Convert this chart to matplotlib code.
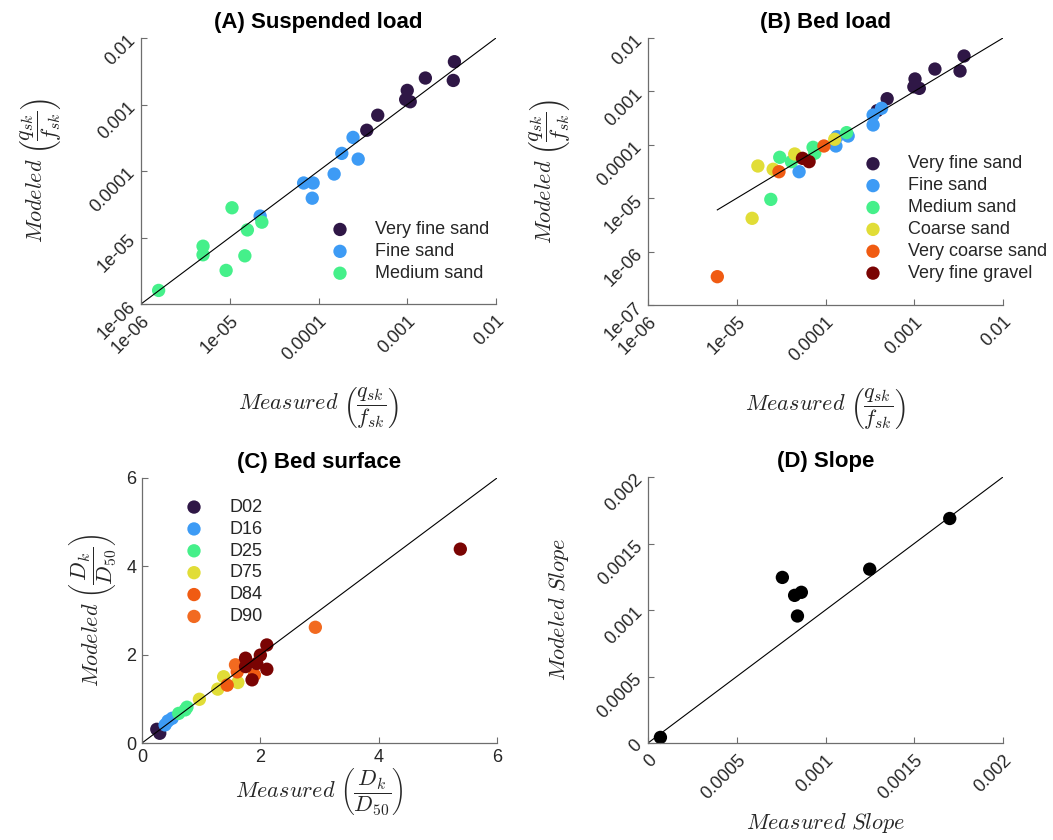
import matplotlib
matplotlib.use("Agg")
import matplotlib.pyplot as plt
from matplotlib.ticker import FuncFormatter, NullLocator

plt.rcParams["font.family"] = ["Liberation Sans", "DejaVu Sans"]
plt.rcParams["mathtext.fontset"] = "cm"

# colours of the grain classes
C_VFS = "#2f1746"
C_FS = "#3d9bf5"
C_MS = "#45f08a"
C_CS = "#e1dd37"
C_VCS = "#f05b12"
C_D90 = "#f26a20"
C_VFG = "#7a0403"

# (A) suspended load, measured / modeled q_sk/f_sk
a_vfs_x = [3.4e-3, 3.3e-3, 1.6e-3, 1.0e-3, 9.6e-4, 1.08e-3, 4.65e-4, 3.5e-4]
a_vfs_y = [4.4e-3, 2.3e-3, 2.5e-3, 1.63e-3, 1.19e-3, 1.1e-3, 6.9e-4, 4.1e-4]
a_fs_x = [2.45e-4, 1.83e-4, 2.8e-4, 1.5e-4, 6.8e-5, 8.7e-5, 8.5e-5, 2.2e-5]
a_fs_y = [3.2e-4, 1.84e-4, 1.51e-4, 9.0e-5, 6.6e-5, 6.6e-5, 3.9e-5, 2.1e-5]
a_ms_x = [1.06e-5, 2.3e-5, 1.58e-5, 5.0e-6, 5.0e-6, 1.48e-5, 9.1e-6, 1.58e-6]
a_ms_y = [2.8e-5, 1.7e-5, 1.3e-5, 7.4e-6, 5.5e-6, 5.3e-6, 3.2e-6, 1.6e-6]

# (B) bed load
b_vfs_x = [3.64e-3, 3.28e-3, 1.71e-3, 1.02e-3, 9.9e-4, 1.14e-3, 4.95e-4, 3.82e-4]
b_vfs_y = [4.6e-3, 2.41e-3, 2.62e-3, 1.71e-3, 1.22e-3, 1.14e-3, 7.3e-4, 4.35e-4]
b_fs_x = [4.28e-4, 3.44e-4, 3.44e-4, 1.80e-4, 1.35e-4, 1.31e-4, 5.04e-5]
b_fs_y = [4.83e-4, 3.61e-4, 2.35e-4, 1.46e-4, 1.42e-4, 9.5e-5, 3.13e-5]
b_ms_x = [1.73e-4, 7.24e-5, 7.57e-5, 3.05e-5, 4.13e-5, 2.42e-5]
b_ms_y = [1.69e-4, 8.97e-5, 6.93e-5, 5.83e-5, 4.83e-5, 9.5e-6]
b_cs_x = [1.27e-4, 4.5e-5, 1.73e-5, 2.57e-5, 1.49e-5]
b_cs_y = [1.27e-4, 6.73e-5, 4.01e-5, 3.48e-5, 4.2e-6]
b_vcs_x = [9.6e-5, 2.99e-5, 6.04e-6]
b_vcs_y = [9.5e-5, 3.13e-5, 3.39e-7]
b_vfg_x = [5.5e-5, 6.53e-5]
b_vfg_y = [5.58e-5, 4.83e-5]

# (C) bed surface, D_k / D_50
c_d02_x = [0.25, 0.30]
c_d02_y = [0.31, 0.22]
c_d16_x = [0.39, 0.44, 0.51]
c_d16_y = [0.41, 0.50, 0.56]
c_d25_x = [0.62, 0.73, 0.76]
c_d25_y = [0.67, 0.75, 0.81]
c_d75_x = [0.97, 1.28, 1.38, 1.62]
c_d75_y = [0.99, 1.22, 1.50, 1.37]
c_d84_x = [1.44, 1.61, 1.90]
c_d84_y = [1.31, 1.61, 1.54]
c_d90_x = [1.58, 2.93]
c_d90_y = [1.77, 2.62]
c_rest_x = [1.75, 1.75, 1.94, 2.00, 2.11, 2.11, 1.86, 5.38]
c_rest_y = [1.92, 1.73, 1.80, 1.99, 2.22, 1.67, 1.43, 4.39]

# (D) slope
d_x = [7.0e-5, 7.57e-4, 8.26e-4, 8.64e-4, 8.42e-4, 1.249e-3, 1.70e-3]
d_y = [4.2e-5, 1.245e-3, 1.11e-3, 1.133e-3, 9.55e-4, 1.307e-3, 1.688e-3]

log_ticks_a = [1e-6, 1e-5, 1e-4, 1e-3, 1e-2]
log_ticks_b = [1e-7, 1e-6, 1e-5, 1e-4, 1e-3, 1e-2]
lin_ticks_c = [0, 2, 4, 6]
lin_ticks_d = [0, 0.0005, 0.001, 0.0015, 0.002]

W, H = 1053, 840
MS = 92
SPINE = "#6e6e6e"
TXT = "#262626"
fmt = FuncFormatter(lambda v, p: f"{v:g}")

fig = plt.figure(figsize=(W / 100, H / 100), dpi=100)


def make_axes(left, top, right, bottom):
    return fig.add_axes([left / W, 1 - bottom / H, (right - left) / W, (bottom - top) / H])


def style(ax, rotate=True):
    for s in ["top", "right"]:
        ax.spines[s].set_visible(False)
    for s in ["left", "bottom"]:
        ax.spines[s].set_color(SPINE)
        ax.spines[s].set_linewidth(0.9)
    ax.tick_params(direction="in", length=4, width=0.8, color=SPINE,
                   labelsize=13, labelcolor=TXT, pad=4)
    ax.xaxis.set_minor_locator(NullLocator())
    ax.yaxis.set_minor_locator(NullLocator())
    ax.xaxis.set_major_formatter(fmt)
    ax.yaxis.set_major_formatter(fmt)
    if rotate:
        ax.tick_params(axis="x", pad=6)
        ax.tick_params(axis="y", pad=6)
        plt.setp(ax.get_xticklabels(), rotation=45, ha="right", va="top", rotation_mode="anchor")
        plt.setp(ax.get_yticklabels(), rotation=45, ha="right", va="center", rotation_mode="anchor")


def place_legend(ax, mx, my):
    half = 0.4 * 13 / 72 * 100
    leg = ax.legend(loc="upper left", bbox_to_anchor=((mx - half) / W, 1 - (my - 10.5) / H),
                    bbox_transform=fig.transFigure, frameon=False, fontsize=13,
                    handlelength=0.8, handletextpad=1.54, labelspacing=0.27,
                    borderpad=0, borderaxespad=0, scatterpoints=1)
    for t in leg.get_texts():
        t.set_color(TXT)


def title(ax, s):
    ax.set_title(s, fontsize=16, fontweight="bold", pad=7)


lbl_q_meas = r"$Measured\ \left(\dfrac{q_{sk}}{f_{sk}}\right)$"
lbl_q_mod = r"$Modeled\ \left(\dfrac{q_{sk}}{f_{sk}}\right)$"

# ---- (A)
ax = make_axes(141, 38, 496, 304)
ax.set_xscale("log")
ax.set_yscale("log")
ax.plot([log_ticks_a[0], log_ticks_a[-1]], [log_ticks_a[0], log_ticks_a[-1]], color="black", lw=0.8)
ax.scatter(a_vfs_x, a_vfs_y, s=MS, color=C_VFS, edgecolors="none", label="Very fine sand")
ax.scatter(a_fs_x, a_fs_y, s=MS, color=C_FS, edgecolors="none", label="Fine sand")
ax.scatter(a_ms_x, a_ms_y, s=MS, color=C_MS, edgecolors="none", label="Medium sand")
ax.set_xlim(log_ticks_a[0], log_ticks_a[-1])
ax.set_ylim(log_ticks_a[0], log_ticks_a[-1])
ax.set_xticks(log_ticks_a)
ax.set_yticks(log_ticks_a)
style(ax)
title(ax, "(A) Suspended load")
ax.set_xlabel(lbl_q_meas, fontsize=16, color=TXT)
ax.set_ylabel(lbl_q_mod, fontsize=16, color=TXT)
ax.xaxis.set_label_coords(0.5, -0.305)
ax.yaxis.set_label_coords(-0.22, 0.5)
place_legend(ax, 340, 231.7)

# ---- (B)
ax = make_axes(648, 38, 1003, 305)
ax.set_xscale("log")
ax.set_yscale("log")
line_start = min(b_vfs_x + b_fs_x + b_ms_x + b_cs_x + b_vcs_x + b_vfg_x)
ax.plot([line_start, log_ticks_b[-1]], [line_start, log_ticks_b[-1]], color="black", lw=0.8)
ax.scatter(b_vfs_x, b_vfs_y, s=MS, color=C_VFS, edgecolors="none", label="Very fine sand")
ax.scatter(b_fs_x, b_fs_y, s=MS, color=C_FS, edgecolors="none", label="Fine sand")
ax.scatter(b_ms_x, b_ms_y, s=MS, color=C_MS, edgecolors="none", label="Medium sand")
ax.scatter(b_cs_x, b_cs_y, s=MS, color=C_CS, edgecolors="none", label="Coarse sand")
ax.scatter(b_vcs_x, b_vcs_y, s=MS, color=C_VCS, edgecolors="none", label="Very coarse sand")
ax.scatter(b_vfg_x, b_vfg_y, s=MS, color=C_VFG, edgecolors="none", label="Very fine gravel")
ax.set_xlim(log_ticks_b[1], log_ticks_b[-1])
ax.set_ylim(log_ticks_b[0], log_ticks_b[-1])
ax.set_xticks(log_ticks_b[1:])
ax.set_yticks(log_ticks_b)
style(ax)
title(ax, "(B) Bed load")
ax.set_xlabel(lbl_q_meas, fontsize=16, color=TXT)
ax.set_ylabel(lbl_q_mod, fontsize=16, color=TXT)
ax.xaxis.set_label_coords(0.5, -0.305)
ax.yaxis.set_label_coords(-0.214, 0.5)
place_legend(ax, 873, 166)

# ---- (C)
ax = make_axes(142, 478, 497, 743)
ax.plot([lin_ticks_c[0], lin_ticks_c[-1]], [lin_ticks_c[0], lin_ticks_c[-1]], color="black", lw=0.8)
ax.scatter(c_d02_x, c_d02_y, s=MS, color=C_VFS, edgecolors="none", label="D02")
ax.scatter(c_d16_x, c_d16_y, s=MS, color=C_FS, edgecolors="none", label="D16")
ax.scatter(c_d25_x, c_d25_y, s=MS, color=C_MS, edgecolors="none", label="D25")
ax.scatter(c_d75_x, c_d75_y, s=MS, color=C_CS, edgecolors="none", label="D75")
ax.scatter(c_d84_x, c_d84_y, s=MS, color=C_VCS, edgecolors="none", label="D84")
ax.scatter(c_d90_x, c_d90_y, s=MS, color=C_D90, edgecolors="none", label="D90")
ax.scatter(c_rest_x, c_rest_y, s=MS, color=C_VFG, edgecolors="none")
ax.set_xlim(lin_ticks_c[0], lin_ticks_c[-1])
ax.set_ylim(lin_ticks_c[0], lin_ticks_c[-1])
ax.set_xticks(lin_ticks_c)
ax.set_yticks(lin_ticks_c)
style(ax, rotate=False)
title(ax, "(C) Bed surface")
ax.set_xlabel(r"$Measured\ \left(\dfrac{D_k}{D_{50}}\right)$", fontsize=16, color=TXT)
ax.set_ylabel(r"$Modeled\ \left(\dfrac{D_k}{D_{50}}\right)$", fontsize=16, color=TXT)
ax.xaxis.set_label_coords(0.5, -0.088)
ax.yaxis.set_label_coords(-0.068, 0.5)
place_legend(ax, 194, 509.3)

# ---- (D)
ax = make_axes(648, 477, 1003, 743)
ax.plot([lin_ticks_d[0], lin_ticks_d[-1]], [lin_ticks_d[0], lin_ticks_d[-1]], color="black", lw=0.8)
ax.scatter(d_x, d_y, s=MS, color="black", edgecolors="none")
ax.set_xlim(lin_ticks_d[0], lin_ticks_d[-1])
ax.set_ylim(lin_ticks_d[0], lin_ticks_d[-1])
ax.set_xticks(lin_ticks_d)
ax.set_yticks(lin_ticks_d)
style(ax)
title(ax, "(D) Slope")
ax.set_xlabel(r"$Measured\ Slope$", fontsize=16, color=TXT)
ax.set_ylabel(r"$Modeled\ Slope$", fontsize=16, color=TXT)
ax.xaxis.set_label_coords(0.5, -0.255)
ax.yaxis.set_label_coords(-0.216, 0.5)

for a in fig.axes:
    for coll in a.collections:
        coll.set_clip_on(False)

fig.savefig("out.png", dpi=100)
